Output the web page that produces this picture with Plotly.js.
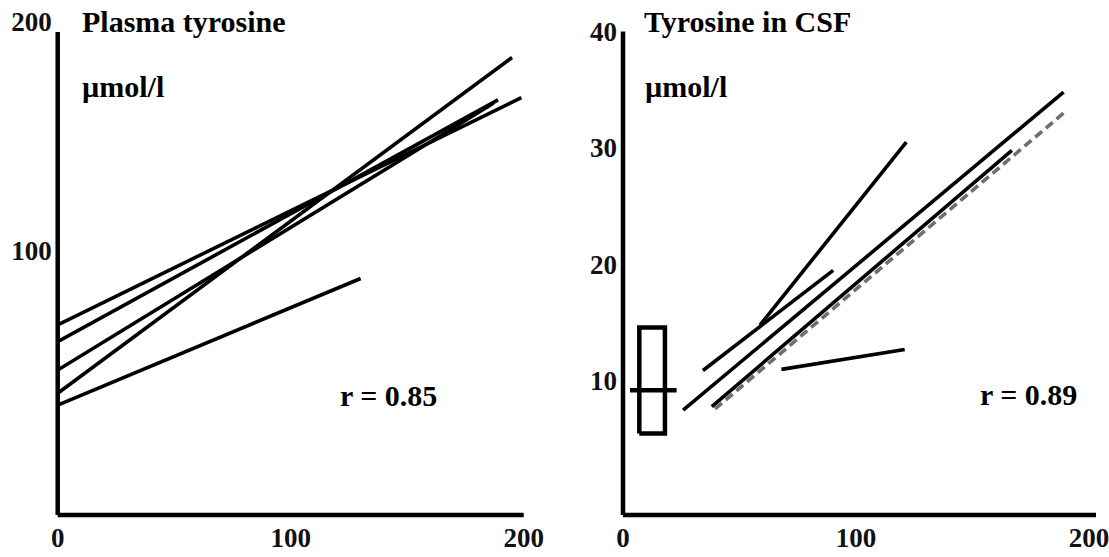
<!DOCTYPE html>
<html><head><meta charset="utf-8">
<script src="https://cdn.plot.ly/plotly-3.0.1.min.js"></script>
<style>html,body{margin:0;padding:0;background:#fff}#chart{width:1109px;height:557px}</style>
</head><body><div id="chart"></div>
<script>
// ---- Left panel: Plasma tyrosine (µmol/l) regression lines ----
const plasmaStartX = [0, 0, 0, 0, 0];
const plasmaStartY = [67.7, 60.4, 48.0, 37.9, 32.7];
const plasmaEndX   = [199, 189, 187, 195, 130];
const plasmaEndY   = [167, 166, 164.5, 184.5, 88];

// ---- Right panel: Tyrosine in CSF (µmol/l) regression lines ----
const csfStartX = [58.8, 34.3, 25.8, 38.1, 68];
const csfStartY = [14.8, 10.9, 7.5, 7.8, 11.0];
const csfEndX   = [121.6, 90.2, 189.1, 166.9, 120.9];
const csfEndY   = [30.5, 19.5, 34.8, 29.8, 12.7];
// grey dashed line
const csfDashX = [39.5, 189.1];
const csfDashY = [7.6, 33.0];
// reference box (range) with median bar
const boxX = [7, 18];
const boxY = [5.5, 14.6];
const boxMedianY = 9.2;
const boxMedianX = [3, 23];

// ---- ticks & labels ----
const xTicks = [0, 100, 200];
const plasmaYTicks = [100, 200];
const csfYTicks = [10, 20, 30, 40];
const panelTitles = ['Plasma tyrosine', 'Tyrosine in CSF'];
const unitLabel = 'µmol/l';
const rLabels = ['r = 0.85', 'r = 0.89'];
const rPos = [[142, 37], [174, 8.8]];

// axis extents
const plasmaYRange = [-15.3, 203.5];
const csfYRange = [-1.5, 41.5];
const plasmaAxisTop = 195.6;
const csfAxisTop = 40;

const FONT = 'Liberation Serif, Times New Roman, serif';
const traces = [];
function lineTrace(x, y, xa, ya, color, width, dash) {
  return {type: 'scatter', mode: 'lines', x: x, y: y, xaxis: xa, yaxis: ya,
    line: {color: color, width: width, dash: dash || 'solid'}, hoverinfo: 'skip', showlegend: false};
}
for (let i = 0; i < plasmaStartX.length; i++) {
  traces.push(lineTrace([plasmaStartX[i], plasmaEndX[i]], [plasmaStartY[i], plasmaEndY[i]], 'x', 'y', '#000', 3.6));
}
for (let i = 0; i < csfStartX.length; i++) {
  traces.push(lineTrace([csfStartX[i], csfEndX[i]], [csfStartY[i], csfEndY[i]], 'x2', 'y2', '#000', 3.6));
}
traces.push(lineTrace(csfDashX, csfDashY, 'x2', 'y2', '#6e6e6e', 3.6, '9px,5px'));
traces.push(lineTrace([boxX[0], boxX[1], boxX[1], boxX[0], boxX[0]],
                      [boxY[0], boxY[0], boxY[1], boxY[1], boxY[0]], 'x2', 'y2', '#000', 4.5));
traces.push(lineTrace(boxMedianX, [boxMedianY, boxMedianY], 'x2', 'y2', '#000', 4.5));

const tickFont = {family: FONT, size: 27, color: '#111', weight: 700};
const textFont = {family: FONT, size: 30, color: '#000', weight: 700};
function xAx(domain, range) {
  return {domain: domain, range: range, tickvals: xTicks, ticktext: xTicks.map(String),
    showgrid: false, zeroline: false, showline: false, ticks: '', tickfont: tickFont,
    ticklabelstandoff: 4, ticklabeloverflow: 'allow', fixedrange: true};
}
function yAx(domain, range, vals, anchor) {
  return {domain: domain, range: range, tickvals: vals, ticktext: vals.map(String), anchor: anchor,
    showgrid: false, zeroline: false, showline: false, ticks: '', tickfont: tickFont,
    ticklabelstandoff: 5, ticklabeloverflow: 'allow', fixedrange: true};
}
const W = 1109, H = 557;
const yDom = [(H - 515) / H, (H - 14) / H];
function frac(v, r) { return (v - r[0]) / (r[1] - r[0]); }
const shapes = [
  {type: 'line', xref: 'x domain', yref: 'y domain', x0: 0, x1: 0, y0: 0, y1: frac(plasmaAxisTop, plasmaYRange), line: {color: '#000', width: 4.5}},
  {type: 'line', xref: 'x domain', yref: 'y domain', x0: 0, x1: 1, y0: 0, y1: 0, line: {color: '#000', width: 4.5}},
  {type: 'line', xref: 'x2 domain', yref: 'y2 domain', x0: 0, x1: 0, y0: 0, y1: frac(csfAxisTop, csfYRange), line: {color: '#000', width: 4.5}},
  {type: 'line', xref: 'x2 domain', yref: 'y2 domain', x0: 0, x1: 1, y0: 0, y1: 0, line: {color: '#000', width: 4.5}}
];
const annotations = [
  {text: panelTitles[0], xref: 'paper', yref: 'paper', x: 80 / W, y: (H - 22) / H, xanchor: 'left', yanchor: 'middle', showarrow: false, font: textFont},
  {text: unitLabel, xref: 'paper', yref: 'paper', x: 80 / W, y: (H - 86) / H, xanchor: 'left', yanchor: 'middle', showarrow: false, font: textFont},
  {text: panelTitles[1], xref: 'paper', yref: 'paper', x: 642 / W, y: (H - 21) / H, xanchor: 'left', yanchor: 'middle', showarrow: false, font: textFont},
  {text: unitLabel, xref: 'paper', yref: 'paper', x: 643 / W, y: (H - 86) / H, xanchor: 'left', yanchor: 'middle', showarrow: false, font: textFont},
  {text: rLabels[0], xref: 'x', yref: 'y', x: rPos[0][0], y: rPos[0][1], xanchor: 'center', yanchor: 'middle', showarrow: false, font: textFont},
  {text: rLabels[1], xref: 'x2', yref: 'y2', x: rPos[1][0], y: rPos[1][1], xanchor: 'center', yanchor: 'middle', showarrow: false, font: textFont}
];
const layout = {
  width: W, height: H, margin: {l: 0, r: 0, t: 0, b: 0},
  paper_bgcolor: '#fff', plot_bgcolor: 'rgba(0,0,0,0)', showlegend: false,
  xaxis: xAx([57.7 / W, 523.7 / W], [0, 200]),
  yaxis: yAx(yDom, plasmaYRange, plasmaYTicks, 'x'),
  xaxis2: xAx([623 / W, 1096 / W], [0, 203]),
  yaxis2: yAx(yDom, csfYRange, csfYTicks, 'x2'),
  shapes: shapes, annotations: annotations
};
layout.xaxis.anchor = 'y';
layout.xaxis2.anchor = 'y2';
Plotly.newPlot('chart', traces, layout, {displayModeBar: false, staticPlot: true});
</script></body></html>
